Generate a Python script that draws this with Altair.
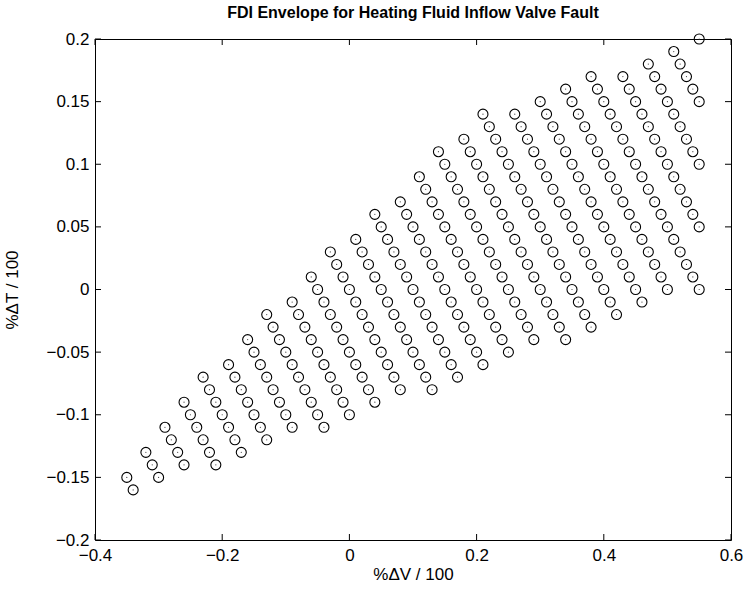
import altair as alt
import pandas as pd

# Each inner list is one diagonal row of the envelope
dv_lines = [
    [-0.35, -0.34],
    [-0.32, -0.31, -0.30],
    [-0.29, -0.28, -0.27, -0.26],
    [-0.26, -0.25, -0.24, -0.23, -0.22, -0.21],
    [-0.23, -0.22, -0.21, -0.20, -0.19, -0.18, -0.17],
    [-0.19, -0.18, -0.17, -0.16, -0.15, -0.14, -0.13],
    [-0.16, -0.15, -0.14, -0.13, -0.12, -0.11, -0.10, -0.09],
    [-0.13, -0.12, -0.11, -0.10, -0.09, -0.08, -0.07, -0.06, -0.05, -0.04],
    [-0.09, -0.08, -0.07, -0.06, -0.05, -0.04, -0.03, -0.02, -0.01, 0.00],
    [-0.06, -0.05, -0.04, -0.03, -0.02, -0.01, 0.00, 0.01, 0.02, 0.03, 0.04],
    [-0.03, -0.02, -0.01, 0.00, 0.01, 0.02, 0.03, 0.04, 0.05, 0.06, 0.07, 0.08],
    [0.01, 0.02, 0.03, 0.04, 0.05, 0.06, 0.07, 0.08, 0.09, 0.10, 0.11, 0.12, 0.13],
    [0.04, 0.05, 0.06, 0.07, 0.08, 0.09, 0.10, 0.11, 0.12, 0.13, 0.14, 0.15, 0.16, 0.17],
    [0.08, 0.09, 0.10, 0.11, 0.12, 0.13, 0.14, 0.15, 0.16, 0.17, 0.18, 0.19, 0.20, 0.21],
    [0.11, 0.12, 0.13, 0.14, 0.15, 0.16, 0.17, 0.18, 0.19, 0.20, 0.21, 0.22, 0.23, 0.24, 0.25],
    [0.14, 0.15, 0.16, 0.17, 0.18, 0.19, 0.20, 0.21, 0.22, 0.23, 0.24, 0.25, 0.26, 0.27, 0.28, 0.29],
    [0.18, 0.19, 0.20, 0.21, 0.22, 0.23, 0.24, 0.25, 0.26, 0.27, 0.28, 0.29, 0.30, 0.31, 0.32, 0.33, 0.34],
    [0.21, 0.22, 0.23, 0.24, 0.25, 0.26, 0.27, 0.28, 0.29, 0.30, 0.31, 0.32, 0.33, 0.34, 0.35, 0.36, 0.37, 0.38],
    [0.26, 0.27, 0.28, 0.29, 0.30, 0.31, 0.32, 0.33, 0.34, 0.35, 0.36, 0.37, 0.38, 0.39, 0.40, 0.41, 0.42],
    [0.30, 0.31, 0.32, 0.33, 0.34, 0.35, 0.36, 0.37, 0.38, 0.39, 0.40, 0.41, 0.42, 0.43, 0.44, 0.45, 0.46],
    [0.34, 0.35, 0.36, 0.37, 0.38, 0.39, 0.40, 0.41, 0.42, 0.43, 0.44, 0.45, 0.46, 0.47, 0.48, 0.49, 0.50],
    [0.38, 0.39, 0.40, 0.41, 0.42, 0.43, 0.44, 0.45, 0.46, 0.47, 0.48, 0.49, 0.50, 0.51, 0.52, 0.53, 0.54, 0.55],
    [0.43, 0.44, 0.45, 0.46, 0.47, 0.48, 0.49, 0.50, 0.51, 0.52, 0.53, 0.54, 0.55],
    [0.47, 0.48, 0.49, 0.50, 0.51, 0.52, 0.53, 0.54, 0.55],
    [0.51, 0.52, 0.53, 0.54, 0.55],
    [0.55],
]

dt_lines = [
    [-0.15, -0.16],
    [-0.13, -0.14, -0.15],
    [-0.11, -0.12, -0.13, -0.14],
    [-0.09, -0.10, -0.11, -0.12, -0.13, -0.14],
    [-0.07, -0.08, -0.09, -0.10, -0.11, -0.12, -0.13],
    [-0.06, -0.07, -0.08, -0.09, -0.10, -0.11, -0.12],
    [-0.04, -0.05, -0.06, -0.07, -0.08, -0.09, -0.10, -0.11],
    [-0.02, -0.03, -0.04, -0.05, -0.06, -0.07, -0.08, -0.09, -0.10, -0.11],
    [-0.01, -0.02, -0.03, -0.04, -0.05, -0.06, -0.07, -0.08, -0.09, -0.10],
    [0.01, 0.00, -0.01, -0.02, -0.03, -0.04, -0.05, -0.06, -0.07, -0.08, -0.09],
    [0.03, 0.02, 0.01, 0.00, -0.01, -0.02, -0.03, -0.04, -0.05, -0.06, -0.07, -0.08],
    [0.04, 0.03, 0.02, 0.01, 0.00, -0.01, -0.02, -0.03, -0.04, -0.05, -0.06, -0.07, -0.08],
    [0.06, 0.05, 0.04, 0.03, 0.02, 0.01, 0.00, -0.01, -0.02, -0.03, -0.04, -0.05, -0.06, -0.07],
    [0.07, 0.06, 0.05, 0.04, 0.03, 0.02, 0.01, 0.00, -0.01, -0.02, -0.03, -0.04, -0.05, -0.06],
    [0.09, 0.08, 0.07, 0.06, 0.05, 0.04, 0.03, 0.02, 0.01, 0.00, -0.01, -0.02, -0.03, -0.04, -0.05],
    [0.11, 0.10, 0.09, 0.08, 0.07, 0.06, 0.05, 0.04, 0.03, 0.02, 0.01, 0.00, -0.01, -0.02, -0.03, -0.04],
    [0.12, 0.11, 0.10, 0.09, 0.08, 0.07, 0.06, 0.05, 0.04, 0.03, 0.02, 0.01, 0.00, -0.01, -0.02, -0.03, -0.04],
    [0.14, 0.13, 0.12, 0.11, 0.10, 0.09, 0.08, 0.07, 0.06, 0.05, 0.04, 0.03, 0.02, 0.01, 0.00, -0.01, -0.02, -0.03],
    [0.14, 0.13, 0.12, 0.11, 0.10, 0.09, 0.08, 0.07, 0.06, 0.05, 0.04, 0.03, 0.02, 0.01, 0.00, -0.01, -0.02],
    [0.15, 0.14, 0.13, 0.12, 0.11, 0.10, 0.09, 0.08, 0.07, 0.06, 0.05, 0.04, 0.03, 0.02, 0.01, 0.00, -0.01],
    [0.16, 0.15, 0.14, 0.13, 0.12, 0.11, 0.10, 0.09, 0.08, 0.07, 0.06, 0.05, 0.04, 0.03, 0.02, 0.01, 0.00],
    [0.17, 0.16, 0.15, 0.14, 0.13, 0.12, 0.11, 0.10, 0.09, 0.08, 0.07, 0.06, 0.05, 0.04, 0.03, 0.02, 0.01, 0.00],
    [0.17, 0.16, 0.15, 0.14, 0.13, 0.12, 0.11, 0.10, 0.09, 0.08, 0.07, 0.06, 0.05],
    [0.18, 0.17, 0.16, 0.15, 0.14, 0.13, 0.12, 0.11, 0.10],
    [0.19, 0.18, 0.17, 0.16, 0.15],
    [0.20],
]

x_ticks = [-0.4, -0.2, 0.0, 0.2, 0.4, 0.6]
y_ticks = [-0.2, -0.15, -0.1, -0.05, 0.0, 0.05, 0.1, 0.15, 0.2]

title_text = "FDI Envelope for Heating Fluid Inflow Valve Fault"
x_title = "%ΔV / 100"
y_title = "%ΔT / 100"

rows = []
for vs, ts in zip(dv_lines, dt_lines):
    for v, t in zip(vs, ts):
        rows.append({"dv": v, "dt": t})
df = pd.DataFrame(rows)
xt = pd.DataFrame({"v": x_ticks})
yt = pd.DataFrame({"t": y_ticks})

W, H = 636, 501
FONT = "Liberation Sans"
TL = 6

xscale = alt.Scale(domain=[-0.4, 0.6], nice=False, zero=False)
yscale = alt.Scale(domain=[-0.2, 0.2], nice=False, zero=False)

xaxis = alt.Axis(values=x_ticks, format="~g", title=x_title, grid=False,
                 domain=False, ticks=False, tickSize=0, labelPadding=7,
                 titlePadding=3, labelFlush=False, labelOverlap=False)
yaxis = alt.Axis(values=y_ticks, format="~g", title=y_title, grid=False,
                 domain=False, ticks=False, tickSize=0, labelPadding=6,
                 titlePadding=24, labelFlush=False, labelOverlap=False)

circles = alt.Chart(df).mark_point(
    shape="circle", filled=False, color="black", size=100, strokeWidth=1.1, opacity=1
).encode(
    x=alt.X("dv:Q", scale=xscale, axis=xaxis),
    y=alt.Y("dt:Q", scale=yscale, axis=yaxis),
)

dots = alt.Chart(df).mark_point(
    shape="circle", filled=True, color="#444444", size=1.5, opacity=1
).encode(
    x=alt.X("dv:Q", scale=xscale, axis=xaxis),
    y=alt.Y("dt:Q", scale=yscale, axis=yaxis),
)

xt_bottom = alt.Chart(xt).mark_rule(color="black", strokeWidth=1).encode(
    x=alt.X("v:Q", scale=xscale, axis=xaxis), y=alt.value(H), y2=alt.value(H - TL))
xt_top = alt.Chart(xt).mark_rule(color="black", strokeWidth=1).encode(
    x=alt.X("v:Q", scale=xscale, axis=xaxis), y=alt.value(0), y2=alt.value(TL))
yt_left = alt.Chart(yt).mark_rule(color="black", strokeWidth=1).encode(
    y=alt.Y("t:Q", scale=yscale, axis=yaxis), x=alt.value(0), x2=alt.value(TL))
yt_right = alt.Chart(yt).mark_rule(color="black", strokeWidth=1).encode(
    y=alt.Y("t:Q", scale=yscale, axis=yaxis), x=alt.value(W), x2=alt.value(W - TL))

chart = alt.layer(xt_bottom, xt_top, yt_left, yt_right, circles, dots).properties(
    width=W, height=H,
    title=alt.TitleParams(title_text, font=FONT, fontSize=16, fontWeight="bold",
                          color="black", anchor="middle", offset=9),
    padding={"left": 95, "top": 39, "right": 16, "bottom": 51},
    autosize=alt.AutoSizeParams(type="none"),
    background="white",
).configure_view(
    stroke="black", strokeWidth=1
).configure_axis(
    labelFont=FONT, labelFontSize=17, labelColor="black",
    titleFont=FONT, titleFontSize=17, titleColor="black", titleFontWeight="normal",
)

chart.save("out.html", embed_options={"renderer": "svg", "actions": False})
